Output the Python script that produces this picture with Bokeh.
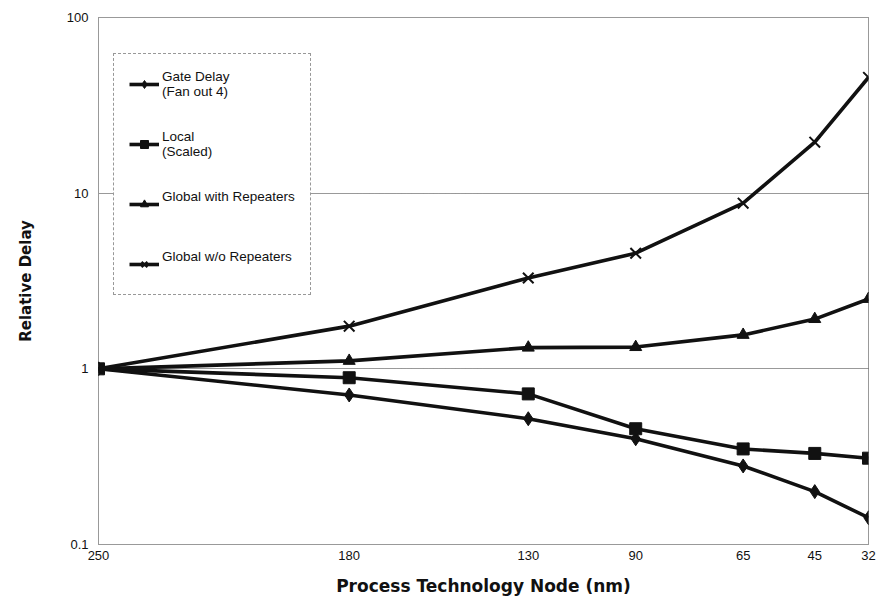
from bokeh.plotting import figure
from bokeh.models import Range1d, FixedTicker, Legend, LegendItem
from bokeh.embed import file_html
from bokeh.resources import INLINE

# Technology nodes: labels as printed, and the (1999 ITRS) node values used for placement
node_labels = ["250", "180", "130", "90", "65", "45", "32"]
node_x = [250, 180, 130, 100, 70, 50, 35]

gate_delay = [1.0, 0.71, 0.52, 0.40, 0.28, 0.20, 0.142]
local_scaled = [1.0, 0.89, 0.72, 0.456, 0.35, 0.33, 0.31]
global_rep = [1.0, 1.11, 1.32, 1.33, 1.56, 1.92, 2.50]
global_norep = [1.0, 1.75, 3.29, 4.55, 8.77, 19.5, 45.6]

y_ticks = [0.1, 1, 10, 100]
y_labels = ["0.1", "1", "10", "100"]

FONT = "Liberation Sans"
INK = "#111111"
GRID = "#333333"

p = figure(width=876, height=598,
           x_range=Range1d(250, 35), y_range=Range1d(0.1, 100),
           y_axis_type="log", output_backend="svg", toolbar_location=None,
           min_border_left=98, min_border_right=8, min_border_top=17,
           min_border_bottom=54, background_fill_color="white",
           border_fill_color="white")

p.outline_line_color = GRID
p.outline_line_dash = "1 1"
p.outline_line_width = 1

p.xgrid.grid_line_color = None
p.ygrid.ticker = FixedTicker(ticks=y_ticks)
p.ygrid.grid_line_color = GRID
p.ygrid.grid_line_dash = "1 1"
p.ygrid.grid_line_width = 1

# axes
p.xaxis.ticker = FixedTicker(ticks=node_x)
p.xaxis.major_label_overrides = dict(zip(node_x, node_labels))
p.yaxis.ticker = FixedTicker(ticks=y_ticks)
p.yaxis.major_label_overrides = dict(zip(y_ticks, y_labels))

for ax in (p.xaxis[0], p.yaxis[0]):
    ax.axis_line_color = None
    ax.major_tick_line_color = None
    ax.minor_tick_line_color = None
    ax.major_tick_out = 0
    ax.major_tick_in = 0
    ax.minor_tick_out = 0
    ax.minor_tick_in = 0
    ax.major_label_text_font = FONT
    ax.major_label_text_font_size = "13px"
    ax.major_label_text_color = INK
    ax.axis_label_text_font = "DejaVu Sans"
    ax.axis_label_text_font_style = "bold"
    ax.axis_label_text_color = INK

p.xaxis.axis_label = "Process Technology Node (nm)"
p.xaxis.axis_label_text_font_size = "17px"
p.xaxis.major_label_standoff = 6
p.xaxis.axis_label_standoff = 13

p.yaxis.axis_label = "Relative Delay"
p.yaxis.axis_label_text_font_size = "15px"
p.yaxis.major_label_standoff = 10
p.yaxis.axis_label_standoff = 29

LW = 3.6
l1 = p.line(node_x, gate_delay, line_color=INK, line_width=LW)
s1 = p.scatter(node_x, gate_delay, marker="diamond", size=14, color=INK)
l2 = p.line(node_x, local_scaled, line_color=INK, line_width=LW)
s2 = p.scatter(node_x, local_scaled, marker="square", size=12, color=INK)
l3 = p.line(node_x, global_rep, line_color=INK, line_width=LW)
s3 = p.scatter(node_x, global_rep, marker="triangle", size=12, color=INK)
l4 = p.line(node_x, global_norep, line_color=INK, line_width=LW)
s4 = p.scatter(node_x, global_norep, marker="x", size=15, line_color=INK, line_width=2)

legend = Legend(items=[
    LegendItem(label="Gate Delay\n(Fan out 4)", renderers=[l1, s1]),
    LegendItem(label="Local\n(Scaled)", renderers=[l2, s2]),
    LegendItem(label="Global with Repeaters\n ", renderers=[l3, s3]),
    LegendItem(label="Global w/o Repeaters\n ", renderers=[l4, s4]),
], location=(15, 249))
legend.border_line_color = GRID
legend.border_line_dash = "1 1"
legend.border_line_width = 1
legend.background_fill_color = "white"
legend.background_fill_alpha = 1
legend.label_text_font = FONT
legend.label_text_font_size = "13.5px"
legend.label_text_color = INK
legend.glyph_width = 30
legend.glyph_height = 20
legend.label_height = 20
legend.label_standoff = 3
legend.padding = 15
legend.spacing = 30
legend.margin = 0
p.add_layout(legend)

open("out.html", "w").write(file_html(p, INLINE))
